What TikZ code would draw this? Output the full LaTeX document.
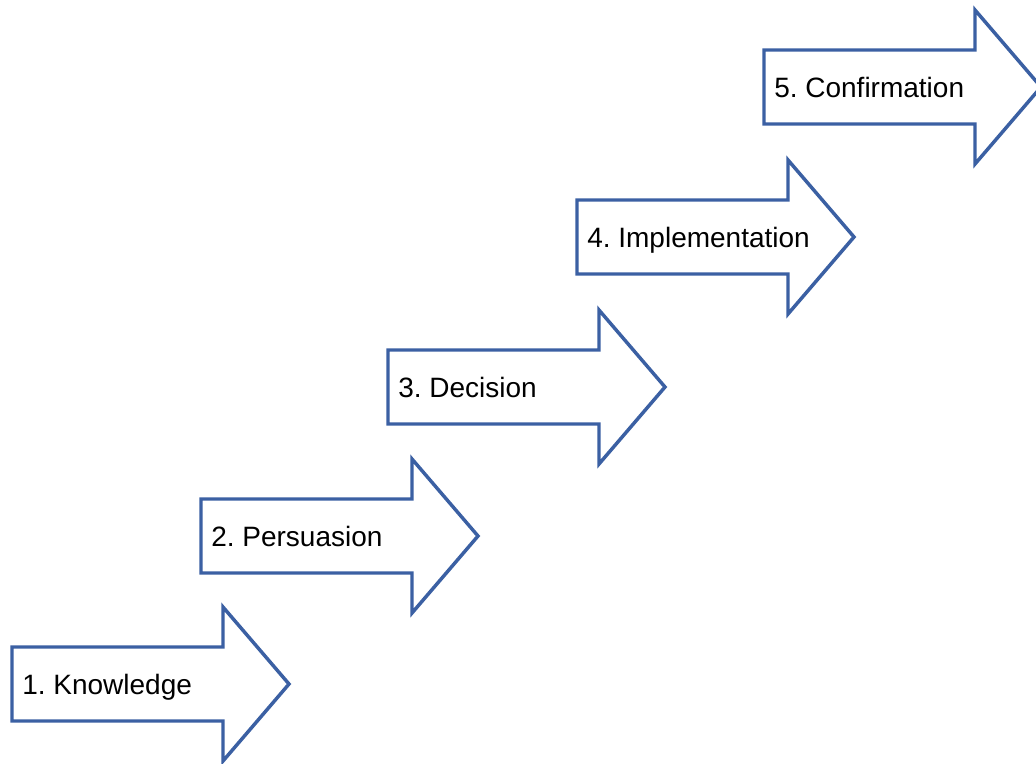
\documentclass[tikz,border=0pt]{standalone}
\usepackage{fontspec}
\setmainfont{Liberation Sans}
\frenchspacing
\definecolor{arrowblue}{RGB}{59,96,163}
\begin{document}
\begin{tikzpicture}[x=0.75pt,y=-0.75pt,
  steparrow/.style={draw=arrowblue,line width=2.6pt,fill=white,line join=miter},
  steplabel/.style={anchor=base west,inner sep=0pt,font=\fontsize{21}{25}\selectfont\frenchspacing,text=black}]
\useasboundingbox (0,0) rectangle (1036,764);
\clip (0,0) rectangle (1036,764);
\foreach \i/\x/\cy/\t in {1/12/684/{1. Knowledge},2/201/536/{2. Persuasion},3/388/387/{3. Decision},4/577/237/{4. Implementation},5/764/87/{5. Confirmation}}{
  \draw[steparrow] (\x,\cy-37) -- (\x+211,\cy-37) -- (\x+211,\cy-77) -- (\x+277,\cy)
     -- (\x+211,\cy+77) -- (\x+211,\cy+37) -- (\x,\cy+37) -- cycle;
  \node[steplabel] (lab\i) at (\x+10,\cy+10) {\t};
}
\end{tikzpicture}
\end{document}
